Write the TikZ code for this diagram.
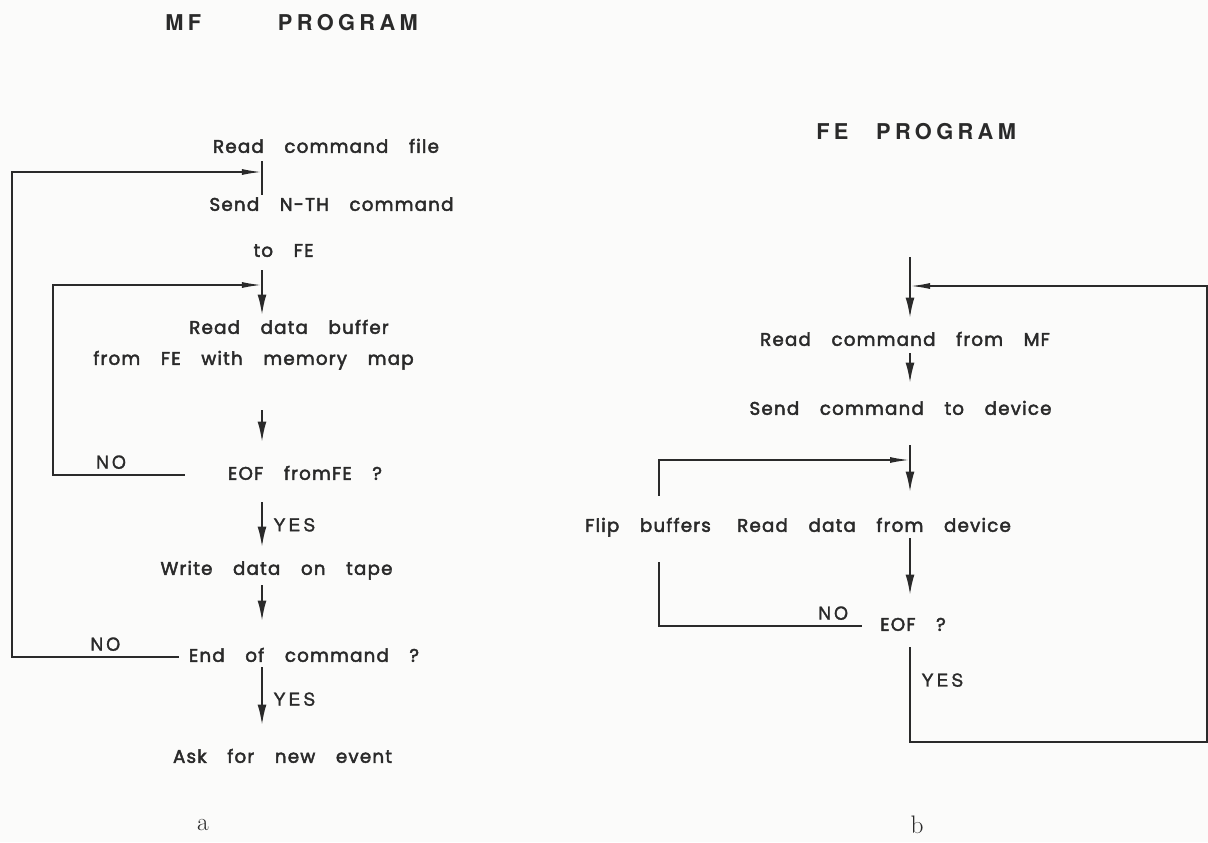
\documentclass[tikz,border=0pt]{standalone}
\usepackage{fontspec}
\usetikzlibrary{arrows.meta}
\newfontfamily\flowfont[WordSpace=3.4, LetterSpace=6.5, FakeBold=2.5]{Poppins}
\newfontfamily\headfont[LetterSpace=20]{TeX Gyre Heros}
\newfontfamily\markfont[LetterSpace=18, FakeBold=1.5]{TeX Gyre Heros}
\definecolor{ink}{HTML}{2A2A2A}
\definecolor{paper}{HTML}{FBFBFA}

\begin{document}
\begin{tikzpicture}[
  x=0.025cm, y=-0.025cm,
  txt/.style={font=\flowfont\fontsize{13}{15}\selectfont, text=ink, inner sep=0pt, text height=0.32cm, text depth=0.08cm},
  yn/.style={txt, font=\markfont\fontsize{12.5}{14}\selectfont, inner xsep=0.27cm, inner ysep=0.06cm},
  ttl/.style={font=\headfont\bfseries\fontsize{15.5}{18}\selectfont, text=ink, inner sep=0pt, anchor=west},
  lab/.style={font=\rmfamily\fontsize{18}{20}\selectfont, text=ink, inner sep=0pt},
  ln/.style={draw=ink, line width=1.2pt},
  varr/.style={ln, -{Latex[length=0.5cm,width=0.22cm]}},
  harr/.style={ln, -{Latex[length=0.5cm,width=0.15cm]}}
]
\useasboundingbox (0,0) rectangle (1208,842);
\fill[paper] (0,0) rectangle (1208,842);

% a: MF program
\node[ttl] (mftitle) at (165,23) {MF\hspace{1.92cm}PROGRAM};
\coordinate (ax) at (262,0);
\coordinate (inA) at (262,172);
\coordinate (inB) at (262,285);
\coordinate (loopA) at (12,0);
\coordinate (loopB) at (53,0);
\node[txt] (readfile) at (326,148) {Read command file};
\node[txt] (sendcmd) at (331.5,206) {Send N-TH command};
\node[txt] (tofe) at (283.5,252) {to FE};
\node[txt] (readbuf) at (289,329) {Read data buffer};
\node[txt] (frommap) at (253.5,360) {from FE with memory map};
\node[txt] (eofa) at (305,475) {EOF fromFE ?};
\node[txt] (writetape) at (276.5,570) {Write data on tape};
\node[txt] (endcmd) at (304,657) {End of command ?};
\node[txt] (newevent) at (282.5,758) {Ask for new event};

\draw[ln, shorten <=0.125cm, shorten >=0.075cm] (readfile.south -| ax) -- (sendcmd.north -| ax);
\draw[varr, shorten <=0.25cm, shorten >=0.15cm] (tofe.south -| ax) -- (readbuf.north -| ax);
\draw[varr, shorten <=1.05cm, shorten >=0.625cm] (frommap.south -| ax) -- (eofa.north -| ax);
\draw[varr, shorten <=0.475cm, shorten >=0.375cm] (eofa.south -| ax) -- node[yn, right, pos=0.55] {YES} (writetape.north -| ax);
\draw[varr, shorten <=0.175cm, shorten >=0.7cm] (writetape.south -| ax) -- (endcmd.north -| ax);
\draw[varr, shorten <=0.05cm, shorten >=0.625cm] (endcmd.south -| ax) -- node[yn, right, pos=0.42] {YES} (newevent.north -| ax);
% loops back
\draw[harr, shorten <=0.25cm] (endcmd.west) -| node[yn, above, pos=0.236] {NO} (loopA |- inA) -- (inA);
\draw[harr, shorten <=1.075cm] (eofa.west) -| node[yn, above, pos=0.334] {NO} (loopB |- inB) -- (inB);

% b: FE program
\node[ttl] (fetitle) at (816,132) {FE\hspace{0.69cm}PROGRAM};
\coordinate (bx) at (910,0);
\coordinate (topB) at (910,257);
\coordinate (inC) at (910,286);
\coordinate (inD) at (910,460);
\coordinate (cornerB) at (1207,742);
\coordinate (loopC) at (659,0);
\node[txt] (readmf) at (905,341) {Read command from MF};
\node[txt] (senddev) at (900.5,410) {Send command to device};
\node[txt] (flip) at (648,527) {Flip buffers};
\node[txt] (readdev) at (874,527) {Read data from device};
\node[txt] (eofb) at (913,626) {EOF ?};

\draw[varr, shorten >=0.375cm] (topB) -- (readmf.north -| bx);
\draw[varr, shorten <=0.1cm, shorten >=0.475cm] (readmf.south -| bx) -- (senddev.north -| bx);
\draw[varr, shorten <=0.675cm, shorten >=0.675cm] (senddev.south -| bx) -- (readdev.north -| bx);
\draw[varr, shorten <=0.075cm, shorten >=0.575cm] (readdev.south -| bx) -- (eofb.north -| bx);
\draw[harr, shorten <=0.325cm] (eofb.south -| bx) |- node[yn, right, pos=0.22] {YES} (cornerB) |- (inC);
\draw[ln, shorten <=0.45cm, shorten >=0.675cm] (eofb.west) -| node[yn, above, pos=0.106] {NO} (loopC |- flip.south);
\draw[harr, shorten <=0.575cm] (loopC |- flip.north) |- (inD);

\node[lab] (capa) at (203,825) {a};
\node[lab] (capb) at (917,825) {b};
\end{tikzpicture}
\end{document}
